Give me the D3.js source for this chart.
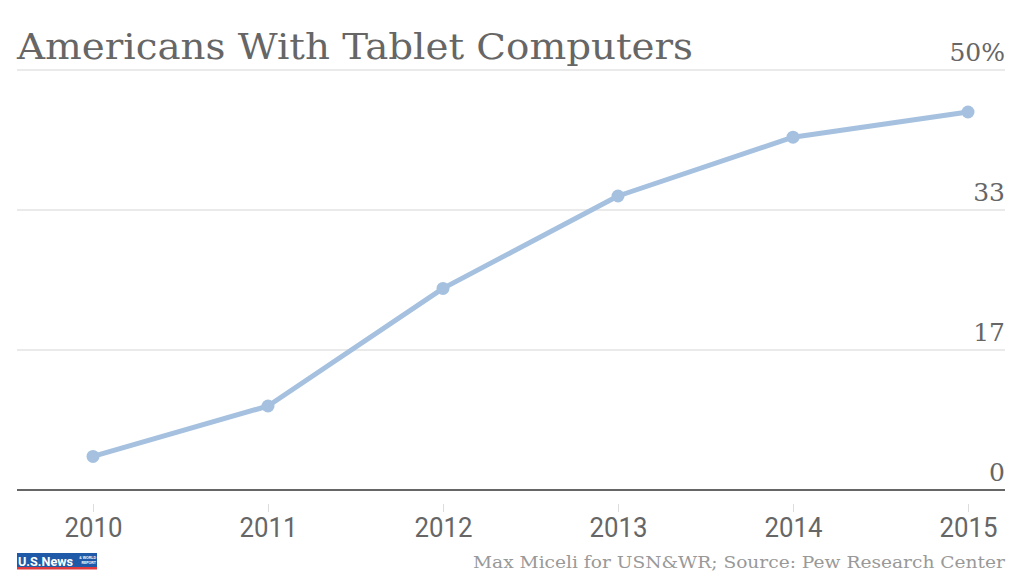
<!DOCTYPE html>
<html>
<head>
<meta charset="utf-8">
<script src="https://cdn.jsdelivr.net/npm/d3@7"></script>
<style>
  html, body { margin: 0; padding: 0; background: #fff; }
  svg { display: block; }
</style>
</head>
<body>
<svg id="chart" width="1024" height="576"></svg>
<script>
const years = [2010, 2011, 2012, 2013, 2014, 2015];
const shares = [4, 10, 24, 35, 42, 45];
const yTicks = [0, 50/3, 100/3, 50];
const yTickLabels = ["0", "17", "33", "50%"];
const title = "Americans With Tablet Computers";
const credit = "Max Miceli for USN&WR; Source: Pew Research Center";

const svg = d3.select("#chart");
const left = 17, right = 1005;
const x = d3.scalePoint().domain(years).range([93, 968]);
const y = d3.scaleLinear().domain([0, 50]).range([490, 70]);

const slab = "'DejaVu Serif', 'Liberation Serif', serif";

// gridlines
svg.append("g").selectAll("line").data(yTicks.slice(1)).join("line")
  .attr("x1", left).attr("x2", right)
  .attr("y1", d => y(d)).attr("y2", d => y(d))
  .attr("stroke", "#e3e3e3").attr("stroke-width", 1.5);

// baseline
svg.append("line").attr("x1", left).attr("x2", right)
  .attr("y1", y(0)).attr("y2", y(0))
  .attr("stroke", "#666").attr("stroke-width", 2);

// y labels
svg.append("g").selectAll("text").data(yTicks).join("text")
  .attr("x", right).attr("y", d => y(d) - 9)
  .attr("text-anchor", "end")
  .attr("font-family", slab).attr("font-size", 25)
  .attr("fill", "#666")
  .text((d, i) => yTickLabels[i]);

// title
svg.append("text").attr("x", left).attr("y", 59)
  .attr("font-family", slab).attr("font-size", 35)
  .attr("fill", "#666")
  .attr("textLength", 676).attr("lengthAdjust", "spacingAndGlyphs")
  .text(title);

// x axis
const xAxis = d3.axisBottom(x).tickSize(8).tickPadding(6).tickSizeOuter(0);
const gx = svg.append("g").attr("transform", "translate(0,504)").call(xAxis);
gx.select(".domain").remove();
gx.selectAll(".tick line").attr("stroke", "#ddd");
gx.selectAll(".tick text")
  .attr("font-family", "'Liberation Sans Narrow', 'Roboto', sans-serif")
  .attr("font-size", 28).attr("fill", "#666")
  .attr("textLength", 58).attr("lengthAdjust", "spacingAndGlyphs")
  .attr("y", 33).attr("dy", 0);

// line
const line = d3.line().x((d, i) => x(years[i])).y(d => y(d));
svg.append("path").datum(shares)
  .attr("d", line).attr("fill", "none")
  .attr("stroke", "#a5c1df").attr("stroke-width", 5)
  .attr("stroke-linejoin", "round");

svg.append("g").selectAll("circle").data(shares).join("circle")
  .attr("cx", (d, i) => x(years[i])).attr("cy", d => y(d))
  .attr("r", 6.5).attr("fill", "#a5c1df");

// credit
svg.append("text").attr("x", right).attr("y", 568)
  .attr("text-anchor", "end")
  .attr("font-family", slab).attr("font-size", 17)
  .attr("fill", "#999")
  .attr("textLength", 532).attr("lengthAdjust", "spacingAndGlyphs")
  .text(credit);

// logo
const logo = svg.append("g").attr("transform", "translate(17,553)");
logo.append("rect").attr("width", 80).attr("height", 14).attr("fill", "#1f5aa8");
logo.append("rect").attr("y", 14).attr("width", 80).attr("height", 2.5).attr("fill", "#e03a3e");
logo.append("text").attr("x", 1).attr("y", 12.5)
  .attr("font-family", "'Liberation Sans Narrow', 'Roboto', sans-serif")
  .attr("font-weight", "bold").attr("font-size", 13).attr("fill", "#fff")
  .attr("textLength", 55).attr("lengthAdjust", "spacingAndGlyphs")
  .text("U.S.News");
const small = logo.append("text")
  .attr("font-family", "'Liberation Sans', sans-serif")
  .attr("font-size", 3.5).attr("font-weight", "bold").attr("fill", "#fff")
  .attr("text-anchor", "end");
small.append("tspan").attr("x", 79).attr("y", 6).text("& WORLD");
small.append("tspan").attr("x", 79).attr("y", 11).text("REPORT");
</script>
</body>
</html>
